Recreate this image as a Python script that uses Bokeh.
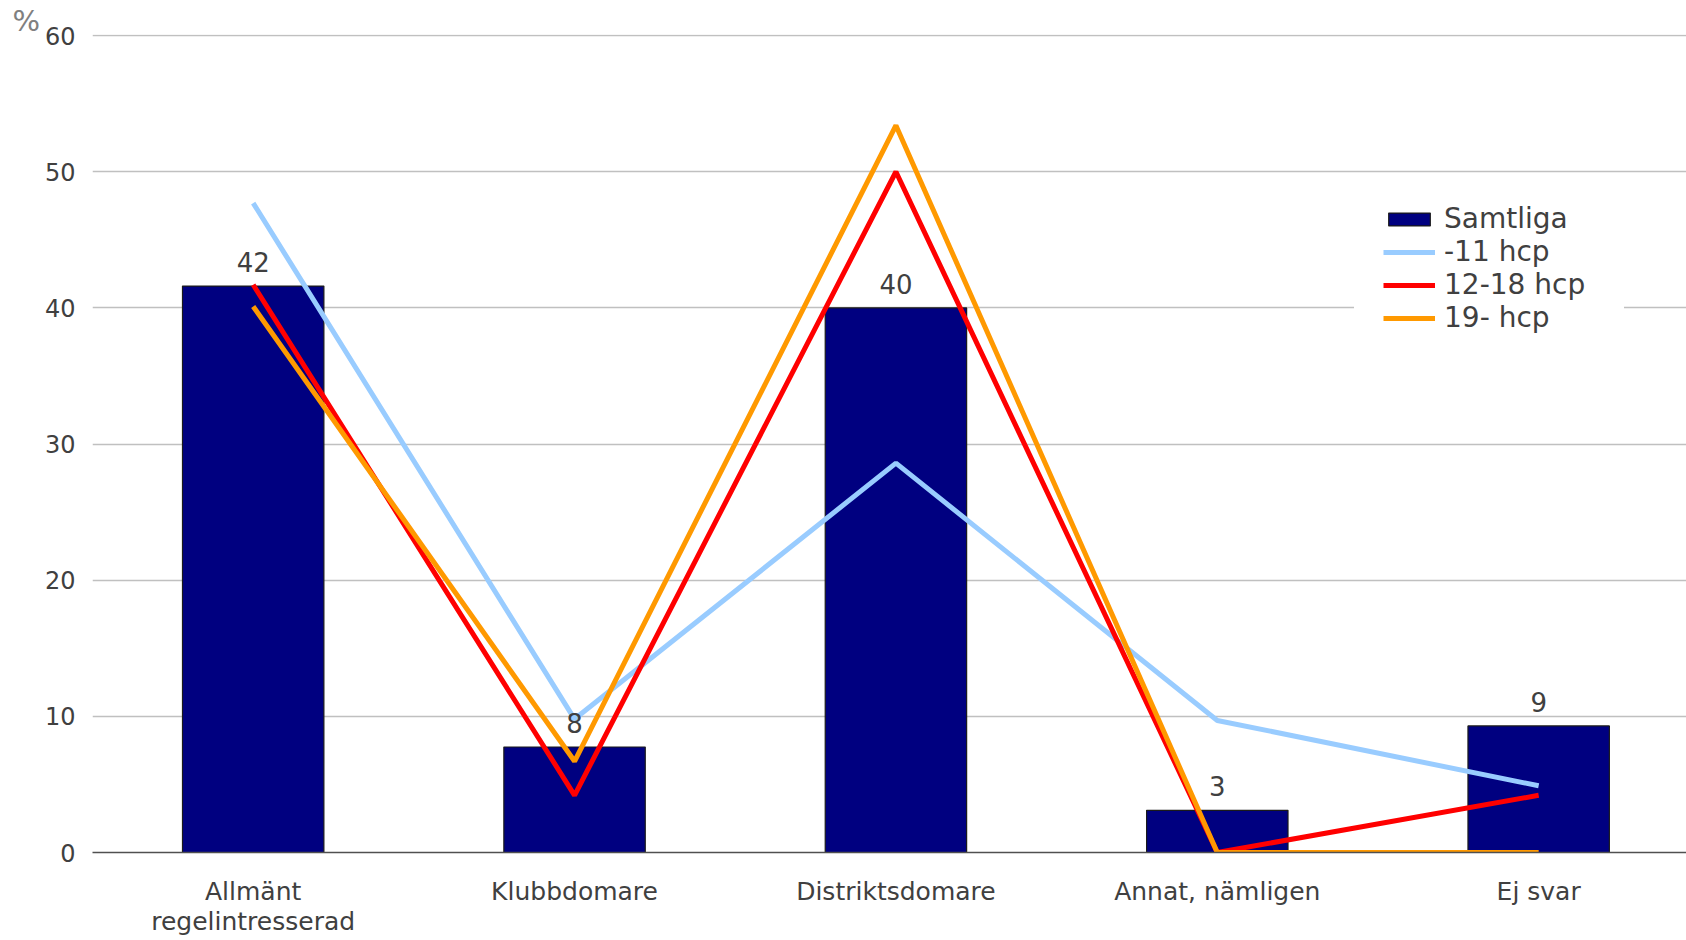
from bokeh.plotting import figure
from bokeh.models import Range1d, FixedTicker, Legend, ColumnDataSource
from bokeh.embed import file_html
from bokeh.resources import INLINE
from bokeh.core.properties import value

# ---- data ----
categories = ["Allmänt\nregelintresserad", "Klubbdomare", "Distriktsdomare", "Annat, nämligen", "Ej svar"]
samtliga = [41.6, 7.75, 40.0, 3.1, 9.3]
hcp_11 = [47.7, 9.8, 28.6, 9.7, 4.9]
hcp_12_18 = [41.7, 4.2, 50.0, 0.0, 4.2]
hcp_19 = [40.1, 6.7, 53.4, 0.0, 0.0]
y_ticks = [0, 10, 20, 30, 40, 50, 60]

FONT = "DejaVu Sans"
TXT = "#404040"

xs = list(range(len(categories)))
labels = [str(int(round(v))) for v in samtliga]

p = figure(width=1686, height=940, output_backend="svg", toolbar_location=None,
           x_range=Range1d(-0.5, 4.46), y_range=Range1d(0, 60.08),
           min_border_left=92, min_border_right=0, min_border_top=34, min_border_bottom=88)
p.outline_line_color = None
p.background_fill_color = "white"
p.border_fill_color = "white"

# "%" unit marker in the top-left corner
p.title.text = "%"
p.title.align = "left"
p.title.offset = -80
p.title.standoff = -7
p.title.text_font = FONT
p.title.text_font_size = "29px"
p.title.text_font_style = "normal"
p.title.text_color = "#808080"

bars = p.vbar(x=xs, top=samtliga, width=0.44, fill_color="#000080", line_color="#1a1a1a", line_width=1.2)
l1 = p.line(xs, hcp_11, line_color="#99CCFF", line_width=5)
l2 = p.line(xs, hcp_12_18, line_color="#FF0000", line_width=5)
l3 = p.line(xs, hcp_19, line_color="#FF9900", line_width=5)

src = ColumnDataSource(dict(x=xs, y=samtliga, t=labels))
p.text(x="x", y="y", text="t", source=src, y_offset=-24, text_align="center",
       text_baseline="middle", text_font=value(FONT), text_font_size="26px", text_color=TXT)

# axes
p.xaxis.ticker = FixedTicker(ticks=xs)
p.xaxis.major_label_overrides = {i: c for i, c in enumerate(categories)}
p.xaxis.major_label_text_font = FONT
p.xaxis.major_label_text_font_size = "25px"
p.xaxis.major_label_text_color = TXT
p.xaxis.major_label_text_line_height = 1.05
p.xaxis.major_tick_line_color = None
p.xaxis.minor_tick_line_color = None
p.xaxis.axis_line_color = "#505050"
p.xaxis.axis_line_width = 1.5
p.xaxis.major_label_standoff = 18

p.yaxis.ticker = FixedTicker(ticks=y_ticks)
p.yaxis.major_label_text_font = FONT
p.yaxis.major_label_text_font_size = "24px"
p.yaxis.major_label_text_color = TXT
p.yaxis.major_tick_line_color = None
p.yaxis.minor_tick_line_color = None
p.yaxis.axis_line_color = None
p.yaxis.major_label_standoff = 11

p.xgrid.grid_line_color = None
p.ygrid.ticker = FixedTicker(ticks=y_ticks)
p.ygrid.grid_line_color = "#C0C0C0"
p.ygrid.grid_line_width = 1.5

legend = Legend(items=[("Samtliga", [bars]), ("-11 hcp", [l1]), ("12-18 hcp", [l2]), ("19- hcp", [l3])],
                location=(1262, 489))
legend.label_text_font = FONT
legend.label_text_font_size = "28px"
legend.label_text_color = TXT
legend.label_width = 151
legend.glyph_width = 52
legend.glyph_height = 16
legend.label_standoff = 9
legend.spacing = 0
legend.padding = 28
legend.margin = 0
legend.border_line_color = "white"
legend.background_fill_color = "white"
legend.background_fill_alpha = 1.0
p.add_layout(legend, "center")

open("out.html", "w").write(file_html(p, INLINE))
